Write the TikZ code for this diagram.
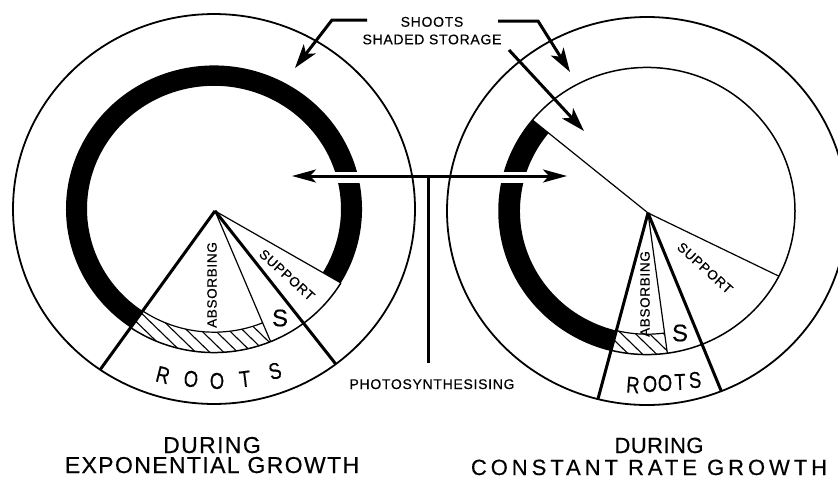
\documentclass[tikz,border=0pt]{standalone}
\usepackage{fontspec}
\usepackage{graphicx}
\setmainfont{Liberation Sans}[FakeBold=0.4]
\usetikzlibrary{arrows.meta}
\begin{document}
\begin{tikzpicture}[x=1pt,y=-1pt,
 outerc/.style={line width=1.8pt},
 ringc/.style={line width=1.5pt},
 thinl/.style={line width=1.2pt},
 thickl/.style={line width=3pt},
 hatchl/.style={line width=1.1pt},
 bigarrow/.style={line width=3pt,-{Stealth[length=24pt,width=15pt,inset=6pt]}},
 dblarrow/.style={line width=3pt,{Stealth[length=24pt,width=13pt,inset=6pt]}-{Stealth[length=24pt,width=13pt,inset=6pt]}},
 lbl/.style={inner sep=0pt,anchor=base,font=\fontsize{14}{16}\selectfont\addfontfeature{LetterSpace=5}},
 pielbl/.style={inner sep=0pt,font=\fontsize{13.5}{15}\selectfont\addfontfeature{LetterSpace=5}},
 bigS/.style={inner sep=0pt,font=\fontsize{24}{26}\selectfont},
 rootl/.style={inner sep=0pt,font=\fontsize{23}{25}\selectfont},
 capl/.style={inner sep=0pt,anchor=base,font=\fontsize{23}{25}\selectfont\addfontfeature{LetterSpace=6}},
 capr/.style={inner sep=0pt,anchor=base,font=\fontsize{22}{25}\selectfont\addfontfeature{LetterSpace=18}}
]
\useasboundingbox (0,0) rectangle (838,482);
\clip (0,0) rectangle (838,482);

% ---------- left diagram ----------
\begin{scope}[shift={(214,209)},yscale=-0.97]
 \draw[outerc] (0,0) circle[radius=201];
 \draw[ringc] (-124.5:148) arc[start angle=-124.5,end angle=-31,radius=148];
 \fill[black] (-31:148) arc[start angle=-31,end angle=235.5,radius=148]
   -- (235.5:127) arc[start angle=235.5,end angle=-31,radius=127] -- cycle;
 \begin{scope}
  \clip (-124.5:127) arc[start angle=-124.5,end angle=-67.5,radius=127]
    -- (-67.5:148) arc[start angle=-67.5,end angle=-124.5,radius=148] -- cycle;
  \foreach \k in {-320,-306,...,320} \draw[hatchl] (\k-220,220) -- (\k+220,-220);
 \end{scope}
 \draw[thinl] (-124.5:127) arc[start angle=-124.5,end angle=-67.5,radius=127];
 \coordinate (La) at (1,-2);
 \draw[thinl] (La) -- (-67.5:148);
 \draw[thinl] (La) -- (-31:148);
 \draw[thickl] (La) -- (-124.5:201);
 \draw[thickl] (La) -- (-52.7:201);
\end{scope}

% ---------- right diagram ----------
\begin{scope}[shift={(647,211)},yscale=-0.97]
 \draw[outerc] (0,0) circle[radius=200];
 \draw[ringc] (0,0) circle[radius=148];
 \fill[black] (140.7:148) arc[start angle=140.7,end angle=255.8,radius=148]
   -- (255.8:127) arc[start angle=255.8,end angle=140.7,radius=127] -- cycle;
 \begin{scope}
  \clip (-104.2:127) arc[start angle=-104.2,end angle=-82.1,radius=127]
    -- (-82.1:148) arc[start angle=-82.1,end angle=-104.2,radius=148] -- cycle;
  \foreach \k in {-320,-306,...,320} \draw[hatchl] (\k-220,220) -- (\k+220,-220);
 \end{scope}
 \draw[thinl] (-104.2:127) arc[start angle=-104.2,end angle=-82.1,radius=127];
 \coordinate (Ra) at (1,-2);
 \draw[thinl] (Ra) -- (140.7:148);
 \draw[thinl] (Ra) -- (-82.1:148);
 \draw[thinl] (Ra) -- (-27:148);
 \draw[thickl] (Ra) -- (-104.2:200);
 \draw[thickl] (Ra) -- (-68.2:200);
\end{scope}

% gaps in the black rings where the arrow passes
\fill[white] (331,172) rectangle (366,183);
\fill[white] (498,172) rectangle (529,183);

% ---------- photosynthesising arrow ----------
\coordinate (tL) at (292,176);
\coordinate (tR) at (567,176);
\coordinate (tJ) at (428,176);
\coordinate (tB) at (428,363);
\draw[dblarrow] (tL) -- (tR);
\draw[thickl] (tJ) -- (tB);
\node[lbl] (photo) at (432,389) {PHOTOSYNTHESISING};

% ---------- top labels and arrows ----------
\node[lbl] (shoots) at (432,26.7) {SHOOTS};
\node[lbl] (shaded) at (432,44.3) {SHADED STORAGE};
\coordinate (aL0) at (367,20);
\coordinate (aL1) at (332,20);
\coordinate (aLt) at (295,68);
\coordinate (aR0) at (498,21);
\coordinate (aR1) at (538,21);
\coordinate (aRt) at (570,72);
\coordinate (aS0) at (509,50);
\coordinate (aSt) at (584,131);
\draw[bigarrow] (aL0) -- (aL1) -- (aLt);
\draw[bigarrow] (aR0) -- (aR1) -- (aRt);
\draw[bigarrow] (aS0) -- (aSt);

% ---------- pie labels ----------
\node[pielbl,rotate=90] (absL) at (212,285) {ABSORBING};
\node[pielbl,rotate=-42] (supL) at (287,275) {SUPPORT};
\node[bigS] (sL) at (280,318) {S};
\node[pielbl,rotate=90] (absR) at (645,294) {ABSORBING};
\node[pielbl,rotate=-42] (supR) at (705,268) {SUPPORT};
\node[bigS] (sR) at (680,333) {S};

\node[rootl,rotate=-14] (rl1) at (163,375) {\scalebox{0.8}[1]{R}};
\node[rootl,rotate=-7] (rl2) at (191,379) {\scalebox{0.8}[1]{O}};
\node[rootl,rotate=0] (rl3) at (217,381) {\scalebox{0.8}[1]{O}};
\node[rootl,rotate=7] (rl4) at (245,379) {\scalebox{0.8}[1]{T}};
\node[rootl,rotate=14] (rl5) at (275,371) {\scalebox{0.8}[1]{S}};

\node[rootl,rotate=-4] (rr1) at (633,385) {\scalebox{0.8}[1]{R}};
\node[rootl,rotate=-2] (rr2) at (650,384) {\scalebox{0.8}[1]{O}};
\node[rootl,rotate=0] (rr3) at (665,383) {\scalebox{0.8}[1]{O}};
\node[rootl,rotate=2] (rr4) at (680,382) {\scalebox{0.8}[1]{T}};
\node[rootl,rotate=5] (rr5) at (695,380) {\scalebox{0.8}[1]{S}};

% ---------- captions ----------
\node[capl] (c1a) at (212,453) {DURING};
\node[capl] (c1b) at (212,473) {EXPONENTIAL GROWTH};
\node[capr] (c2a) at (659,453) {\addfontfeature{LetterSpace=2}DURING};
\node[capr] (c2b) at (649,475) {CONSTANT RATE GROWTH};
\end{tikzpicture}
\end{document}
